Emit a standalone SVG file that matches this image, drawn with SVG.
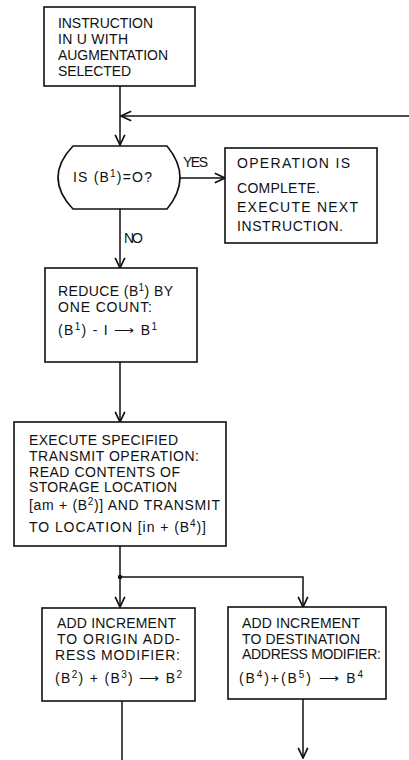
<svg xmlns="http://www.w3.org/2000/svg" width="409" height="760" viewBox="0 0 409 760">
<defs>
<style>
.box{fill:#fff;stroke:#111;stroke-width:1.6}
.ln{fill:none;stroke:#111;stroke-width:1.5}
text{font-family:"Liberation Sans",Arial,sans-serif;font-size:14px;fill:#111}
.sup{font-size:10px}
</style>
<marker id="ah" markerUnits="userSpaceOnUse" markerWidth="12" markerHeight="12" viewBox="0 0 10 10" refX="9.5" refY="5" orient="auto">
<path d="M1,1 L9.5,5 L1,9" fill="none" stroke="#111" stroke-width="1.4"/>
</marker>
</defs>
<rect width="409" height="760" fill="#fff"/>
<g id="connectors">
<path class="ln" d="M120,86 V145" marker-end="url(#ah)"/>
<path class="ln" d="M409,116 H121" marker-end="url(#ah)"/>
<path class="ln" d="M180,178 H225" marker-end="url(#ah)"/>
<path class="ln" d="M120,209 V268" marker-end="url(#ah)"/>
<path class="ln" d="M120,362 V422" marker-end="url(#ah)"/>
<path class="ln" d="M120,546 V607" marker-end="url(#ah)"/>
<path class="ln" d="M120,577 H303 V607" marker-end="url(#ah)"/>
<circle cx="120" cy="577" r="2.2" fill="#111"/>
<path class="ln" d="M122,701 V760"/>
<path class="ln" d="M303,699 V758" marker-end="url(#ah)"/>
<text x="183" y="167" textLength="25" lengthAdjust="spacing">YES</text>
<text x="124" y="243" textLength="19" lengthAdjust="spacing">NO</text>
</g>
<g id="start">
<rect class="box" x="44" y="7" width="151" height="79"/>
<text x="58" y="28" textLength="95" lengthAdjust="spacing">INSTRUCTION</text>
<text x="58" y="44" textLength="70" lengthAdjust="spacing">IN U WITH</text>
<text x="58" y="60" textLength="110" lengthAdjust="spacing">AUGMENTATION</text>
<text x="58" y="76" textLength="73" lengthAdjust="spacing">SELECTED</text>
</g>
<g id="decision">
<path class="box" d="M73,146 H167 Q193,177.5 167,209 H73 Q43,177.5 73,146 Z"/>
<text x="73" y="182" textLength="79" lengthAdjust="spacing">IS (B<tspan class="sup" dy="-5">1</tspan><tspan dy="5">)=O?</tspan></text>
</g>
<g id="complete">
<rect class="box" x="225" y="148" width="152" height="95"/>
<text x="237" y="168" textLength="113" lengthAdjust="spacing">OPERATION IS</text>
<text x="237" y="193" textLength="83" lengthAdjust="spacing">COMPLETE.</text>
<text x="237" y="212" textLength="121" lengthAdjust="spacing">EXECUTE NEXT</text>
<text x="237" y="231" textLength="106" lengthAdjust="spacing">INSTRUCTION.</text>
</g>
<g id="reduce">
<rect class="box" x="45" y="268" width="152" height="94"/>
<text x="58" y="296" textLength="115" lengthAdjust="spacing">REDUCE (B<tspan class="sup" dy="-5">1</tspan><tspan dy="5">) BY</tspan></text>
<text x="58" y="312" textLength="94" lengthAdjust="spacing">ONE COUNT:</text>
<text x="58" y="335" textLength="99" lengthAdjust="spacing">(B<tspan class="sup" dy="-5">1</tspan><tspan dy="5">) - I ⟶ B</tspan><tspan class="sup" dy="-5">1</tspan></text>
</g>
<g id="transmit">
<rect class="box" x="14" y="422" width="212" height="124"/>
<text x="29" y="445" textLength="149" lengthAdjust="spacing">EXECUTE SPECIFIED</text>
<text x="29" y="461" textLength="170" lengthAdjust="spacing">TRANSMIT OPERATION:</text>
<text x="29" y="477" textLength="151" lengthAdjust="spacing">READ CONTENTS OF</text>
<text x="29" y="492" textLength="148" lengthAdjust="spacing">STORAGE LOCATION</text>
<text x="29" y="510" textLength="191" lengthAdjust="spacing">[am + (B<tspan class="sup" dy="-5">2</tspan><tspan dy="5">)] AND TRANSMIT</tspan></text>
<text x="29" y="532" textLength="177" lengthAdjust="spacing">TO LOCATION [in + (B<tspan class="sup" dy="-5">4</tspan><tspan dy="5">)]</tspan></text>
</g>
<g id="origin">
<rect class="box" x="42" y="608" width="153" height="93"/>
<text x="57" y="628" textLength="119" lengthAdjust="spacing">ADD INCREMENT</text>
<text x="57" y="644" textLength="123" lengthAdjust="spacing">TO ORIGIN ADD-</text>
<text x="55" y="660" textLength="125" lengthAdjust="spacing">RESS MODIFIER:</text>
<text x="55" y="683" textLength="127" lengthAdjust="spacing">(B<tspan class="sup" dy="-5">2</tspan><tspan dy="5">) + (B</tspan><tspan class="sup" dy="-5">3</tspan><tspan dy="5">) ⟶ B</tspan><tspan class="sup" dy="-5">2</tspan></text>
</g>
<g id="destination">
<rect class="box" x="228" y="607" width="158" height="92"/>
<text x="242" y="628" textLength="118" lengthAdjust="spacing">ADD INCREMENT</text>
<text x="242" y="644" textLength="118" lengthAdjust="spacing">TO DESTINATION</text>
<text x="242" y="659" textLength="139" lengthAdjust="spacing">ADDRESS MODIFIER:</text>
<text x="239" y="683" textLength="124" lengthAdjust="spacing">(B<tspan class="sup" dy="-5">4</tspan><tspan dy="5">)+(B</tspan><tspan class="sup" dy="-5">5</tspan><tspan dy="5">) ⟶ B</tspan><tspan class="sup" dy="-5">4</tspan></text>
</g>
</svg>
